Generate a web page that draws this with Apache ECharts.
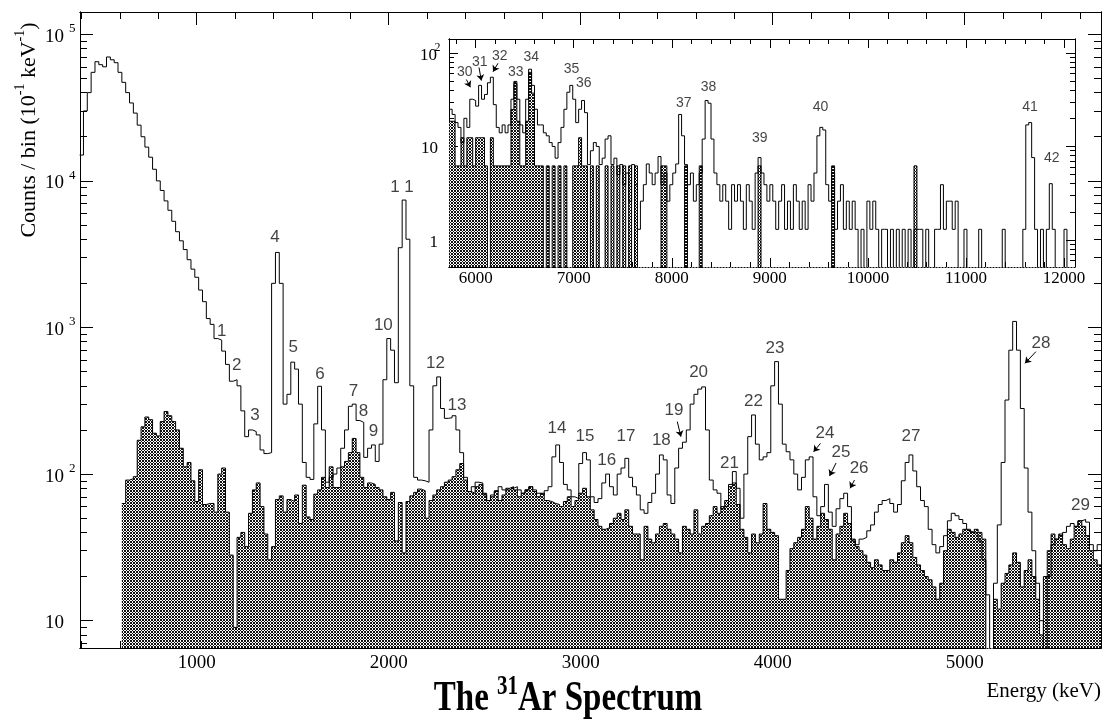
<!DOCTYPE html>
<html><head><meta charset="utf-8">
<script src="https://cdn.jsdelivr.net/npm/echarts@6/dist/echarts.min.js"></script>
<style>html,body{margin:0;padding:0;background:#fff;}#c{width:1111px;height:720px;}</style>
</head><body><div id="c"></div>
<script>
// ---------------- data ----------------
const MAIN_BIN = 20;          // keV per bin, main spectrum
const OPEN_START = 390;       // first bin edge of the open (total) histogram
const HATCH_START = 610;      // first bin edge of the hatched histogram
const openCounts = [
 15000,30000,40000,55000,65000,62000,60000,70000,67000,64000,
 55000,47000,40000,34000,29000,24000,20000,17000,14500,12000,
 10000,8600,7300,6300,5300,4500,3900,3400,2900,2500,
 2200,1800,1500,1150,1050,840,820,690,560,430,
 440,400,270,180,200,195,185,146,138,140,
 2000,3250,2000,300,350,580,520,300,120,95,
 92,220,397,200,88,95,100,110,150,200,
 290,300,232,225,130,150,158,122,160,440,
 840,700,420,3500,7400,4000,400,95,91,90,
 88,200,400,460,280,240,242,250,200,140,
 95,76,82,88,87,72,66,72,76,82,
 78,78,80,82,78,74,78,82,78,74,
 72,77,82,131,158,120,85,78,70,68,
 118,140,125,70,64,68,87,100,82,72,
 100,110,128,95,82,72,57,54,64,74,
 100,135,125,72,63,110,150,165,200,300,
 350,380,393,200,91,78,74,58,60,85,
 104,80,50,100,180,253,160,125,131,140,
 400,585,300,160,142,125,100,78,95,125,
 131,70,52,60,85,55,44,58,68,74,
 60,35,33,36,37,41,45,55,62,66,
 68,63,55,62,90,120,135,105,82,66,
 60,42,33,29,32,38,48,54,52,49,
 46,42,40,39,35,26,15,0,18,45,
 120,320,700,1100,700,280,110,55,30,18,
 10,0,20,33,36,38,40,44,46,44,
 48,49,47,33,30,33
];
const hatchCounts = [
 63,91,93,96,170,210,245,235,190,182,
 228,267,250,228,200,150,112,120,90,65,
 107,62,63,63,55,100,110,55,28,9,
 37,40,32,54,78,87,60,39,26,32,
 67,71,55,67,65,72,46,84,51,49,
 73,78,95,81,112,81,81,112,122,140,
 175,140,95,81,87,85,81,78,70,67,
 75,35,64,29,65,71,75,79,77,50,
 66,72,78,82,88,91,96,107,118,91,
 76,74,82,85,74,66,70,77,66,72,
 80,82,78,70,74,78,82,76,70,74,
 66,65,63,62,60,65,70,60,66,74,
 80,70,57,49,44,42,43,46,50,54,
 49,57,44,39,39,26,44,36,34,39,
 44,46,42,39,36,29,44,42,39,57,
 39,44,46,52,60,54,60,66,82,87,
 62,42,37,29,39,34,39,63,42,40,
 38,14,14,22,31,34,37,42,60,50,
 36,44,54,49,42,26,39,44,54,46,
 36,32,30,28,25,23,26,24,22,22,
 26,25,29,34,38,34,27,24,22,20,
 19,17,14,18,30,42,40,37,39,42,
 41,40,42,40,36,0,0,14,12,18,
 21,24,29,25,17,22,26,20,14,8,
 20,30,39,36,39,33,31,36,44,48,
 44,38,30,26,24
];
const INSET_BIN = 30;
const INSET_START = 5730;
const insetOpen = [
 25,22,18,16,11,20,16,32,31,27,
 45,32,36,48,55,28,16,14,17,14,
 17,32,47,32,17,14,32,67,45,25,
 17,17,14,13,11,10,7.5,11,16,25,
 38,45,32,18,25,31,23,6.4,9,11,
 10,6.4,7.5,12,13,6.4,7.5,5,6.4,3.9,
 5.2,2.6,6.4,3.9,1.3,2.6,3.9,6.5,5.2,3.9,
 5.2,7.8,3.9,5.2,2.6,3.9,5.2,6.5,22,13,
 6.4,3.9,5.2,2.6,3.9,5.2,12,31,29,12,
 5.2,3.9,2.6,3.9,2.6,1.3,3.9,2.6,3.9,2.6,
 1.3,3.9,2.6,1.3,5.2,7.6,5.2,3.9,2.6,3.9,
 2.6,1.3,2.6,3.9,1.3,2.6,1.3,3.9,2.6,1.3,
 2.6,1.3,3.9,2.6,5.2,13,16,15,3.9,2.6,
 5.2,1.3,2.6,3.9,1.3,2.6,1.3,2.6,1.3,0,
 1.3,0,2.6,1.3,2.6,1.3,0,1.3,1.3,0,
 1.3,0,1.3,0,1.3,0,1.3,0,1.3,1.3,
 1.3,0,1.3,0,0,1.3,1.3,3.9,1.3,2.6,
 2.6,1.3,2.6,0,0,1.3,0,0,0,0,
 1.3,0,0,0,0,0,0,0,1.3,0,
 0,0,0,0,0,1.3,17,18,7.6,1.3,
 0,1.3,0,1.3,4,1.3,0,0,0,1.3,
 0,0,0,1.3
];
const insetHatch = [
 18.6,18.6,6.2,6.2,12.4,6.2,12.4,12.4,6.2,12.4,
 12.4,12.4,6.2,0,12.4,6.2,6.2,6.2,6.2,6.2,
 6.2,24.8,49.6,18.6,6.2,6.2,18.6,62,37.2,6.2,
 6.2,6.2,0,6.2,0,6.2,0,6.2,0,6.2,
 0,0,6.2,6.2,12.4,6.2,6.2,0,6.2,0,
 6.2,0,0,6.2,0,6.2,0,6.2,0,6.2,
 0,6.2,0,6.2,0,0,0,0,0,0,
 0,0,6.2,6.2,0,0,0,0,0,0,
 6.2,0,0,0,0,6.2,0,0,0,0,
 0,0,0,0,0,0,0,0,0,0,
 0,0,0,0,0,6.2,0,0,0,0,
 0,0,0,0,0,0,0,0,0,0,
 0,0,0,0,0,0,0,0,0,0,
 6.2,0,0,0,0,0,0,0,0,0,
 0,0,0,0,0,0,0,0,0,0,
 0,0,0,0,0,0,0,0,6.2,0,
 0,0,0,0,0,0,0,0,0,0,
 0,0,0,0,0,0,0,0,0,0,
 0,0,0,0,0,0,0,0,0,0,
 0,0,0,0,0,0,0,0,0,0,
 0,0,0,0,0,0,0,0,0,0,
 0,0,0,0
];
const mainXTicks = [1000, 2000, 3000, 4000, 5000];
const mainYTicks = [10, 100, 1000, 10000, 100000];
const insetXTicks = [6000, 7000, 8000, 9000, 10000, 11000, 12000];
const insetYTicks = [1, 10, 100];
const MAIN_X = [392, 5710], MAIN_Y = [6.51, 141900];
const INSET_X = [5728, 12112], INSET_Y = [0.514, 141];
// peak labels: [text, energy keV, counts]
const peakLabels = [
 ['1',1130,946],['2',1208,554],['3',1304,253],['4',1408,4140],['5',1503,736],
 ['6',1642,482],['7',1816,365],['8',1868,267],['9',1920,195],['10',1972,1040],
 ['1 1',2069,9080],['12',2244,573],['13',2355,296],['14',2876,206],['15',3022,180],
 ['16',3136,125],['17',3236,182],['18',3420,171],['19',3486,274],['20',3614,492],
 ['21',3775,119],['22',3900,312],['23',4012,721],['24',4272,190],['25',4356,140],
 ['26',4450,110],['27',4720,182],['28',5397,783],['29',5603,61]
];
const peakArrows = [
 [3503,228,3522,180],[4249,162,4213,142],[4330,119,4296,97],[4426,91,4403,80],[5371,684,5314,570]
];
const insetLabels = [
 ['30',5888,61.6],['31',6041,79.5],['32',6245,93],['33',6408,62],['34',6568,91],
 ['35',6977,67.4],['36',7102,47.4],['37',8122,29.4],['38',8374,43],['39',8898,12.2],
 ['40',9517,26.2],['41',11653,26.2],['42',11874,7.48]
];
const insetArrows = [
 [5905,52,5946,43],[6034,70,6058,50.6],[6228,77.6,6177,63]
];

// ---------------- helpers ----------------
const SERIF = '"Liberation Serif", "Times New Roman", serif';
const SANS = '"Liberation Sans", Arial, sans-serif';
const FLOOR = 0.01;
function steps(start, bin, vals) {
  const pts = vals.map((v, i) => [start + i * bin, v > 0 ? v : FLOOR]);
  pts.push([start + vals.length * bin, pts[pts.length - 1][1]]);
  return pts;
}
function range(a, b, s) { const r = []; for (let v = a; v <= b + 1e-9; v += s) r.push(v); return r; }
function logMinor(lo, hi) {
  const r = [];
  for (let e = -1; e <= 5; e++) for (let m = 2; m <= 9; m++) {
    const v = +(m * Math.pow(10, e)).toPrecision(6);
    if (v >= lo && v <= hi) r.push(v);
  }
  return r;
}
const mainMinorX = range(400, 5600, 200).filter(v => v % 1000 !== 0);
const insetMinorX = range(5800, 12000, 200).filter(v => v % 1000 !== 0);
const mainMinorY = logMinor(MAIN_Y[0], MAIN_Y[1]);
const insetMinorY = logMinor(INSET_Y[0], INSET_Y[1]);

function hatchPattern() {
  const n = 3;
  const c = document.createElement('canvas'); c.width = n; c.height = n;
  const g = c.getContext('2d');
  g.fillStyle = '#fff'; g.fillRect(0, 0, n, n);
  g.fillStyle = '#111';
  for (let x = 0; x < n; x++) for (let y = 0; y < n; y++)
    if ((x + y) % n === 0 || (x - y + n) % n === 0) g.fillRect(x, y, 1, 1);
  return c;
}
const pattern = { image: hatchPattern(), repeat: 'repeat' };

function xAx(grid, pos, ext, ticks, len, label) {
  return {
    type: 'value', gridIndex: grid, position: pos, min: ext[0], max: ext[1],
    axisLine: { show: true, onZero: false, lineStyle: { color: '#000', width: 1 } },
    axisTick: { show: true, inside: true, length: len, customValues: ticks, lineStyle: { color: '#000', width: 1 } },
    axisLabel: label ? Object.assign({ show: true, customValues: ticks, color: '#000', fontFamily: SERIF,
      formatter: v => String(v) }, label) : { show: false },
    splitLine: { show: false }, axisPointer: { show: false }
  };
}
function yAx(grid, pos, ext, ticks, len, label) {
  return {
    type: 'log', logBase: 10, gridIndex: grid, position: pos, min: ext[0], max: ext[1],
    axisLine: { show: true, onZero: false, lineStyle: { color: '#000', width: 1 } },
    axisTick: { show: true, inside: true, length: len, customValues: ticks, lineStyle: { color: '#000', width: 1 } },
    axisLabel: label ? Object.assign({ show: true, customValues: ticks, color: '#000', fontFamily: SERIF }, label) : { show: false },
    splitLine: { show: false }, axisPointer: { show: false }
  };
}
const mainYLabel = {
  align: 'left', margin: 35, fontSize: 19,
  formatter: v => { const e = Math.round(Math.log10(v)); return e === 1 ? '{b|10}' : '{b|10}{s|' + e + '}'; },
  rich: {
    b: { fontFamily: SERIF, fontSize: 19, color: '#000', lineHeight: 24, verticalAlign: 'bottom' },
    s: { fontFamily: SERIF, fontSize: 13, color: '#000', lineHeight: 8, verticalAlign: 'top', padding: [0, 0, 0, 5] }
  }
};
const insetYLabel = {
  align: 'right', margin: 11, fontSize: 17,
  formatter: v => { const e = Math.round(Math.log10(v)); return e === 0 ? '{b|1}' : e === 1 ? '{b|10}' : '{b|10}{s|' + e + '}'; },
  rich: {
    b: { fontFamily: SERIF, fontSize: 17, color: '#000', lineHeight: 22, verticalAlign: 'bottom' },
    s: { fontFamily: SERIF, fontSize: 12, color: '#000', lineHeight: 8, verticalAlign: 'top', width: 1, align: 'left' }
  }
};

function histSeries(xi, yi, pts, filled) {
  const s = {
    type: 'line', xAxisIndex: xi, yAxisIndex: yi, data: pts, step: 'end',
    showSymbol: false, symbol: 'none', clip: true, silent: true,
    lineStyle: { color: '#000', width: 1 }
  };
  if (filled) s.areaStyle = { color: pattern, opacity: 1, origin: 'start' };
  return s;
}
function labelSeries(xi, yi, list, size) {
  return {
    type: 'scatter', xAxisIndex: xi, yAxisIndex: yi, silent: true, z: 10,
    symbol: 'circle', symbolSize: 1, itemStyle: { color: 'rgba(0,0,0,0)' },
    data: list.map(p => ({ value: [p[1], p[2]], label: { formatter: p[0] } })),
    label: { show: true, position: 'inside', fontFamily: SANS, fontSize: size, color: '#111' }
  };
}
function arrowSeries(xi, yi, list) {
  return {
    type: 'lines', coordinateSystem: 'cartesian2d', xAxisIndex: xi, yAxisIndex: yi, silent: true, z: 10,
    symbol: ['none', 'arrow'], symbolSize: 6,
    lineStyle: { color: '#000', width: 1, opacity: 1 },
    data: list.map(a => ({ coords: [[a[0], a[1]], [a[2], a[3]]] }))
  };
}

const chart = echarts.init(document.getElementById('c'), null, { renderer: 'canvas', width: 1111, height: 720 });
chart.setOption({
  animation: false,
  backgroundColor: '#fff',
  textStyle: { fontFamily: SERIF },
  grid: [
    { left: 80, top: 12, width: 1021, height: 636, containLabel: false },
    { left: 449, top: 39, width: 626, height: 228, containLabel: false, show: true, backgroundColor: '#fff', borderWidth: 0 }
  ],
  xAxis: [
    xAx(0, 'bottom', MAIN_X, mainXTicks, 13, { fontSize: 19, margin: 6 }),
    xAx(0, 'bottom', MAIN_X, mainMinorX, 7, null),
    xAx(0, 'top', MAIN_X, mainXTicks, 13, null),
    xAx(0, 'top', MAIN_X, mainMinorX, 7, null),
    xAx(1, 'bottom', INSET_X, insetXTicks, 9, { fontSize: 17, margin: 3 }),
    xAx(1, 'bottom', INSET_X, insetMinorX, 5, null),
    xAx(1, 'top', INSET_X, insetXTicks, 9, null),
    xAx(1, 'top', INSET_X, insetMinorX, 5, null)
  ],
  yAxis: [
    yAx(0, 'left', MAIN_Y, mainYTicks, 13, mainYLabel),
    yAx(0, 'left', MAIN_Y, mainMinorY, 7, null),
    yAx(0, 'right', MAIN_Y, mainYTicks, 13, null),
    yAx(0, 'right', MAIN_Y, mainMinorY, 7, null),
    yAx(1, 'left', INSET_Y, insetYTicks, 9, insetYLabel),
    yAx(1, 'left', INSET_Y, insetMinorY, 5, null),
    yAx(1, 'right', INSET_Y, insetYTicks, 9, null),
    yAx(1, 'right', INSET_Y, insetMinorY, 5, null)
  ],
  series: [
    histSeries(0, 0, steps(HATCH_START, MAIN_BIN, hatchCounts), true),
    histSeries(0, 0, steps(OPEN_START, MAIN_BIN, openCounts), false),
    labelSeries(0, 0, peakLabels, 17),
    arrowSeries(0, 0, peakArrows),
    histSeries(4, 4, steps(INSET_START, INSET_BIN, insetHatch), true),
    histSeries(4, 4, steps(INSET_START, INSET_BIN, insetOpen), false),
    labelSeries(4, 4, insetLabels, 14),
    arrowSeries(4, 4, insetArrows)
  ],
  graphic: [
    { type: 'text', x: 27, y: 130, rotation: Math.PI / 2, silent: true,
      style: { text: '{a|Counts / bin (10}{s|-1}{a| keV}{s|-1}{a|)}', align: 'center', verticalAlign: 'middle',
        rich: { a: { fontFamily: SERIF, fontSize: 22, lineHeight: 27, verticalAlign: 'bottom', fill: '#000' },
                s: { fontFamily: SERIF, fontSize: 14, lineHeight: 10, verticalAlign: 'top', fill: '#000' } } } },
    { type: 'text', x: 568, y: 697, scaleY: 1.27, silent: true,
      style: { text: '{t|The }{u|31}{t|Ar Spectrum}', align: 'center', verticalAlign: 'middle',
        rich: { t: { fontFamily: SERIF, fontWeight: 'bold', fontSize: 33, lineHeight: 36, verticalAlign: 'bottom', fill: '#000' },
                u: { fontFamily: SERIF, fontWeight: 'bold', fontSize: 21, lineHeight: 16, verticalAlign: 'top', fill: '#000' } } } },
    { type: 'text', x: 1101, y: 691, silent: true,
      style: { text: 'Energy (keV)', align: 'right', verticalAlign: 'middle', fontFamily: SERIF, fontSize: 21, fill: '#000' } }
  ]
});
</script>
</body></html>
